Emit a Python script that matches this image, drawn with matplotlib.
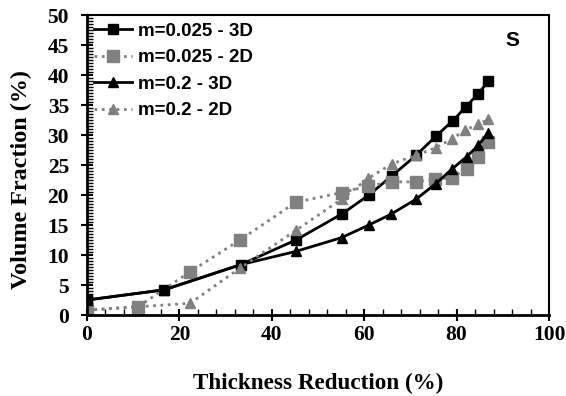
import matplotlib
matplotlib.use("Agg")
import matplotlib.pyplot as plt
from matplotlib.ticker import MultipleLocator

# datos
x_a3d = [0, 16.7, 33.3, 45.2, 55.3, 61.0, 66.0, 71.2, 75.5, 79.2, 82.0, 84.7, 86.9]
y_a3d = [2.5, 4.2, 8.4, 12.5, 16.9, 20.0, 23.2, 26.6, 29.8, 32.4, 34.7, 36.9, 39.0]

x_a2d = [0, 11.1, 22.3, 33.1, 45.2, 55.1, 60.9, 66.0, 71.2, 75.3, 78.9, 82.2, 84.7, 86.9]
y_a2d = [0.8, 1.4, 7.2, 12.5, 18.8, 20.4, 21.5, 22.2, 22.2, 22.6, 22.9, 24.4, 26.4, 28.9]

x_b3d = [0, 16.7, 33.3, 45.2, 55.1, 61.0, 65.8, 71.2, 75.5, 79.1, 82.2, 84.7, 86.9]
y_b3d = [2.5, 4.2, 8.4, 10.6, 12.9, 15.0, 16.8, 19.3, 21.9, 24.4, 26.4, 28.3, 30.4]

x_b2d = [0, 22.3, 33.1, 45.2, 55.1, 60.9, 66.0, 71.2, 75.5, 79.1, 81.8, 84.7, 86.9]
y_b2d = [0.8, 1.95, 7.8, 14.1, 19.3, 22.8, 25.2, 26.6, 27.9, 29.4, 30.8, 31.8, 32.6]

etiquetas = ['m=0.025 - 3D', 'm=0.025 - 2D', 'm=0.2 - 3D', 'm=0.2 - 2D']
gris = '#808080'

fig = plt.figure(figsize=(5.66, 3.96), dpi=100)
ax = fig.add_axes([0.1537, 0.2045, 0.8163, 0.7575])

ax.plot(x_a3d, y_a3d, '-', color='black', lw=2, marker='s', ms=7.5, label=etiquetas[0])
ax.plot(x_a2d, y_a2d, ':', color=gris, lw=2, marker='s', ms=8, label=etiquetas[1])
ax.plot(x_b3d, y_b3d, '-', color='black', lw=2, marker='^', ms=7.5, label=etiquetas[2])
ax.plot(x_b2d, y_b2d, ':', color=gris, lw=2, marker='^', ms=7.5, label=etiquetas[3])

ax.set_xlim(0, 100)
ax.set_ylim(0, 50)
ax.xaxis.set_major_locator(MultipleLocator(20))
ax.xaxis.set_minor_locator(MultipleLocator(4))
ax.yaxis.set_major_locator(MultipleLocator(5))
ax.yaxis.set_minor_locator(MultipleLocator(0.5))
ax.tick_params(which='major', direction='inout', length=8, width=1.5)
ax.tick_params(which='minor', direction='in', length=4, width=1)
ax.tick_params(axis='y', which='major', pad=9)
for s in ['left', 'bottom']:
    ax.spines[s].set_linewidth(2)
for s in ['top', 'right']:
    ax.spines[s].set_linewidth(1.5)

for lab in ax.get_xticklabels() + ax.get_yticklabels():
    lab.set_fontfamily('Liberation Serif')
    lab.set_fontweight('bold')
    lab.set_fontsize(15.5)

ax.set_xlabel('Thickness Reduction (%)', fontfamily='Liberation Serif',
              fontweight='bold', fontsize=16.7, labelpad=20)
ax.set_ylabel('Volume Fraction (%)', fontfamily='Liberation Serif',
              fontweight='bold', fontsize=17.4)
ax.yaxis.set_label_coords(-0.118, 0.453)

ax.text(92, 45.8, 'S', fontfamily='Liberation Sans', fontweight='bold',
        fontsize=15, ha='center', va='center')

ax.legend(loc='upper left', frameon=False, handlelength=2.0, handletextpad=0.3,
          labelspacing=0.5, borderaxespad=0.0, borderpad=0.4,
          prop={'family': 'Liberation Sans', 'weight': 'bold', 'size': 13.5})

fig.savefig('out.png', dpi=100)
